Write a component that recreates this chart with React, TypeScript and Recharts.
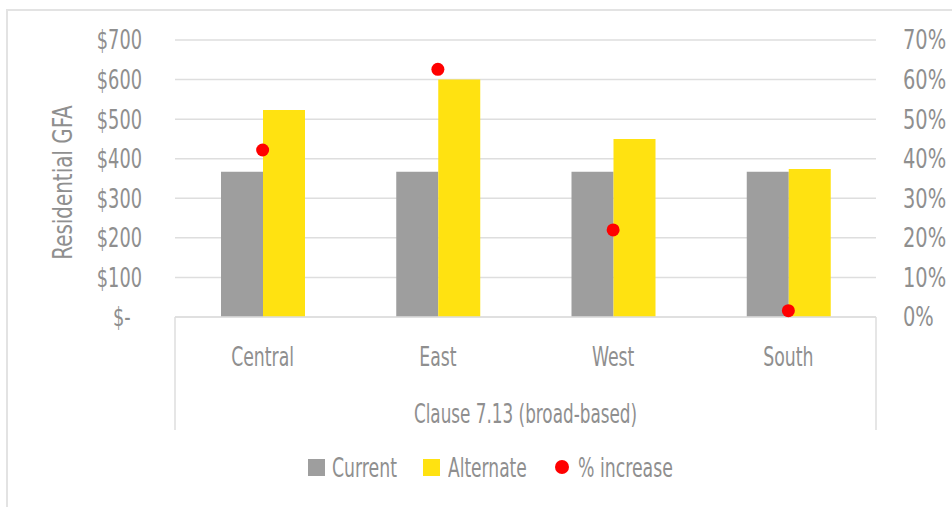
import React from "react";
import { ComposedChart, Bar, Line, XAxis, YAxis, CartesianGrid, Legend } from "recharts";

const categories = ["Central", "East", "West", "South"];
const currentValues = [367, 367, 367, 367];
const alternateValues = [523, 600, 450, 374];
const pctIncrease = [0.422, 0.626, 0.22, 0.016];
const groupLabel = "Clause 7.13 (broad-based)";
const yAxisTitle = "Residential GFA";
const leftTicks = [0, 100, 200, 300, 400, 500, 600, 700];
const rightTicks = [0, 0.1, 0.2, 0.3, 0.4, 0.5, 0.6, 0.7];
const legendLabels = ["Current", "Alternate", "% increase"];

const data = categories.map((name, i) => ({
  name,
  current: currentValues[i],
  alternate: alternateValues[i],
  pct: pctIncrease[i],
}));

const FONT = '"DejaVu Sans Condensed", "DejaVu Sans", sans-serif';
const FS = 26;
const TEXT = "#8f8f8f";
const LINE = "#dedede";
const GRAY = "#9e9e9e";
const YELLOW = "#ffe211";
const RED = "#ff0000";

const fmtLeft = (v: number) => (v === 0 ? "$-\u00A0\u00A0" : `$${v}`);
const fmtRight = (v: number) => `${Math.round(v * 100)}%`;

const LeftTick = (props: any) => {
  const { x, y, payload } = props;
  return (
    <text
      transform={`translate(${x},${y}) scale(0.76,1)`}
      x={0}
      y={0}
      dy="0.36em"
      textAnchor="end"
      fill={TEXT}
      fontSize={FS}
      fontFamily={FONT}
    >
      {fmtLeft(payload.value)}
    </text>
  );
};

const RightTick = (props: any) => {
  const { x, y, payload } = props;
  return (
    <text
      transform={`translate(${x},${y}) scale(0.83,1)`}
      x={0}
      y={0}
      dy="0.36em"
      textAnchor="start"
      fill={TEXT}
      fontSize={FS}
      fontFamily={FONT}
    >
      {fmtRight(payload.value)}
    </text>
  );
};

const CatTick = (props: any) => {
  const { x, y, payload, index, visibleTicksCount } = props;
  const half = payload && typeof payload.offset === "number" && payload.offset > 0 ? payload.offset : 87.6;
  const count = visibleTicksCount || categories.length;
  const left = x - half - index * 2 * half;
  const right = left + count * 2 * half;
  return (
    <g>
      <text
        transform={`translate(${x},${y + 49}) scale(0.74,1)`}
        textAnchor="middle"
        fill={TEXT}
        fontSize={FS}
        fontFamily={FONT}
      >
        {payload.value}
      </text>
      {index === 0 && (
        <g>
          <line x1={left} x2={left} y1={y} y2={y + 113} stroke={LINE} strokeWidth={1.5} />
          <line x1={right} x2={right} y1={y} y2={y + 113} stroke={LINE} strokeWidth={1.5} />
          <text
            transform={`translate(${(left + right) / 2},${y + 105.5}) scale(0.72,1)`}
            textAnchor="middle"
            fill={TEXT}
            fontSize={FS}
            fontFamily={FONT}
          >
            {groupLabel}
          </text>
        </g>
      )}
    </g>
  );
};

const YLabel = (props: any) => {
  const vb = props.viewBox || {};
  const cy = vb.y + vb.height / 2 + 4;
  const bx = 72;
  return (
    <text
      transform={`translate(${bx},${cy}) rotate(-90) scale(0.82,1)`}
      textAnchor="middle"
      fill={TEXT}
      fontSize={27}
      fontFamily={FONT}
    >
      {yAxisTitle}
    </text>
  );
};

const txtStyle = (left: number, scale: number): React.CSSProperties => ({
  position: "absolute",
  left,
  top: 3,
  lineHeight: "30px",
  whiteSpace: "nowrap",
  transform: `scaleX(${scale})`,
  transformOrigin: "left center",
});

const LegendContent = () => (
  <div
    style={{
      position: "relative",
      width: 952,
      height: 40,
      fontFamily: FONT,
      fontSize: FS,
      color: TEXT,
    }}
  >
    <span style={{ position: "absolute", left: 308, top: 8.5, width: 17, height: 17, background: GRAY }} />
    <span style={txtStyle(332, 0.74)}>{legendLabels[0]}</span>
    <span style={{ position: "absolute", left: 423, top: 8.5, width: 17, height: 17, background: YELLOW }} />
    <span style={txtStyle(448, 0.73)}>{legendLabels[1]}</span>
    <span style={{ position: "absolute", left: 555, top: 10, width: 14, height: 14, borderRadius: 7, background: RED }} />
    <span style={txtStyle(578, 0.74)}>{legendLabels[2]}</span>
  </div>
);

export default function App() {
  return (
    <div
      style={{
        position: "absolute",
        left: 0,
        top: 0,
        width: 952,
        height: 507,
        overflow: "hidden",
        background: "#fff",
      }}
    >
      <div
        style={{
          position: "absolute",
          left: 6,
          top: 9,
          width: 1000,
          height: 600,
          border: "2px solid #e3e3e3",
        }}
      />
      <ComposedChart
        width={952}
        height={507}
        data={data}
        margin={{ top: 40, right: 0, bottom: 0, left: 0 }}
        barGap={0}
        style={{ position: "absolute", left: 0, top: 0 }}
      >
        <CartesianGrid yAxisId="left" vertical={false} stroke={LINE} strokeWidth={1.5} />
        <XAxis
          dataKey="name"
          height={190}
          tickLine={false}
          tickSize={0}
          tickMargin={0}
          axisLine={{ stroke: LINE, strokeWidth: 1.5 }}
          tick={<CatTick />}
          interval={0}
        />
        <YAxis
          yAxisId="left"
          width={175}
          domain={[0, 700]}
          ticks={leftTicks}
          axisLine={false}
          tickLine={false}
          tickMargin={27}
          tick={<LeftTick />}
          label={<YLabel />}
        />
        <YAxis
          yAxisId="right"
          orientation="right"
          width={76}
          domain={[0, 0.7]}
          ticks={rightTicks}
          axisLine={false}
          tickLine={false}
          tickMargin={21}
          tick={<RightTick />}
        />
        <Legend
          layout="horizontal"
          verticalAlign="middle"
          align="center"
          wrapperStyle={{ top: 450, left: 0, width: 952 }}
          content={<LegendContent />}
        />
        <Bar yAxisId="left" dataKey="current" name="Current" fill={GRAY} barSize={42} isAnimationActive={false} />
        <Bar yAxisId="left" dataKey="alternate" name="Alternate" fill={YELLOW} barSize={42} isAnimationActive={false} />
        <Line
          yAxisId="right"
          dataKey="pct"
          name="% increase"
          stroke="none"
          legendType="circle"
          dot={{ r: 6.5, fill: RED, stroke: "none" }}
          activeDot={false}
          isAnimationActive={false}
        />
      </ComposedChart>
    </div>
  );
}
